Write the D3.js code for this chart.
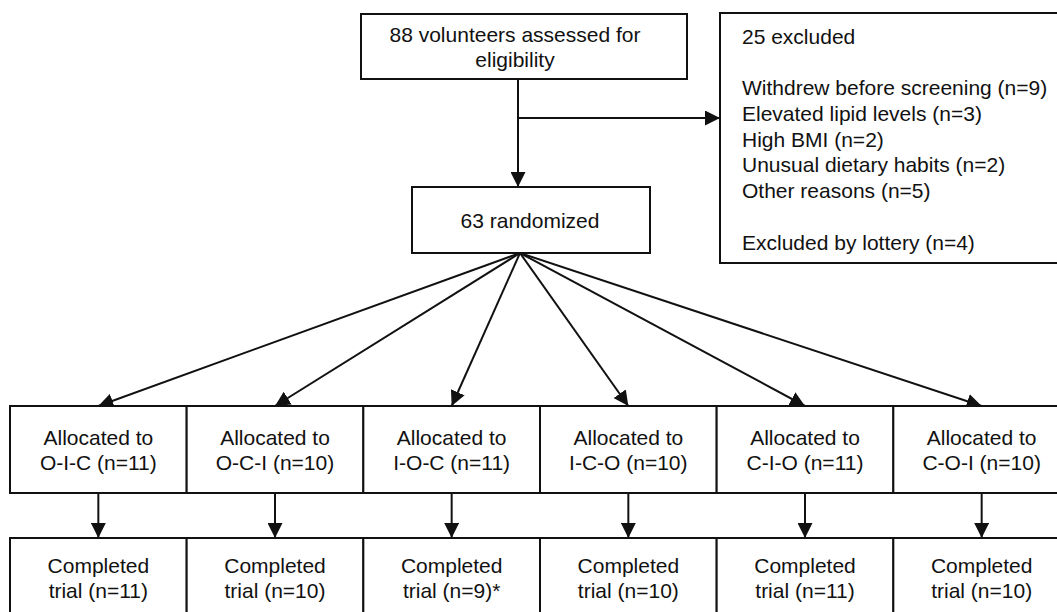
<!DOCTYPE html>
<html>
<head>
<meta charset="utf-8">
<script src="https://cdn.jsdelivr.net/npm/d3@7"></script>
<style>
  body { margin: 0; background: #fff; }
  svg text { font-family: "Liberation Sans", Arial, sans-serif; fill: #111; }
</style>
</head>
<body>
<div id="flow"></div>
<script>
// Flow data
const assessedN = 88;
const randomizedN = 63;
const excludedN = 25;
const exclusionReasons = ["Withdrew before screening", "Elevated lipid levels", "High BMI", "Unusual dietary habits", "Other reasons"];
const exclusionCounts = [9, 3, 2, 2, 5];
const lotteryExcluded = 4;
const groups = ["O-I-C", "O-C-I", "I-O-C", "I-C-O", "C-I-O", "C-O-I"];
const allocatedN = [11, 10, 11, 10, 11, 10];
const completedN = [11, 10, 9, 10, 11, 10];
const completedNote = ["", "", "*", "", "", ""];

drawFlow();

function drawFlow() {
    const W = 1057, H = 612;
    const svg = d3.select("#flow").append("svg")
        .attr("width", W).attr("height", H);

    // filled arrow head
    svg.append("defs").append("marker")
        .attr("id", "arr")
        .attr("viewBox", "0 0 10 10")
        .attr("refX", 10).attr("refY", 5)
        .attr("markerWidth", 15).attr("markerHeight", 15)
        .attr("markerUnits", "userSpaceOnUse")
        .attr("orient", "auto")
        .append("path")
        .attr("d", "M0,0 L10,5 L0,10 z")
        .attr("fill", "#111");

    const stroke = "#111";
    const sw = 2;
    const fs = 21;

    function box(x, y, w, h) {
        svg.append("rect")
            .attr("x", x).attr("y", y).attr("width", w).attr("height", h)
            .attr("fill", "#fff").attr("stroke", stroke).attr("stroke-width", sw);
    }
    function label(x, y, lines, gap) {
        const t = svg.append("text")
            .attr("x", x).attr("y", y)
            .attr("text-anchor", "middle")
            .style("font-size", fs + "px");
        lines.forEach((l, i) => {
            t.append("tspan").attr("x", x).attr("dy", i === 0 ? 0 : gap).text(l);
        });
    }
    function arrow(x1, y1, x2, y2) {
        svg.append("line")
            .attr("x1", x1).attr("y1", y1).attr("x2", x2).attr("y2", y2)
            .attr("stroke", stroke).attr("stroke-width", sw)
            .attr("marker-end", "url(#arr)");
    }

    // box geometry
    const top = { x: 361, y: 14, w: 326, h: 65 };
    const excl = { x: 720, y: 13, w: 360, h: 250 };
    const rand = { x: 412, y: 187, w: 238, h: 66 };
    const mainX = 518, branchY = 118;

    // connectors first so boxes sit on top
    svg.append("line")
        .attr("x1", mainX).attr("y1", top.y + top.h)
        .attr("x2", mainX).attr("y2", branchY)
        .attr("stroke", stroke).attr("stroke-width", sw);
    arrow(mainX, branchY, mainX, rand.y);
    arrow(mainX - 1, branchY, excl.x, branchY);

    box(top.x, top.y, top.w, top.h);
    label(515, 42, [assessedN + " volunteers assessed for", "eligibility"], 25);

    // Excluded box
    box(excl.x, excl.y, excl.w, excl.h);
    const ex = svg.append("text").attr("x", 742).attr("y", 44).style("font-size", fs + "px");
    ex.append("tspan").attr("x", 742).text(excludedN + " excluded");
    exclusionReasons.forEach((r, i) => {
        ex.append("tspan").attr("x", 742).attr("dy", i === 0 ? 51 : 25.8)
            .text(r + " (n=" + exclusionCounts[i] + ")");
    });
    ex.append("tspan").attr("x", 742).attr("dy", 52).text("Excluded by lottery (n=" + lotteryExcluded + ")");

    // Randomized box
    box(rand.x, rand.y, rand.w, rand.h);
    label(530, 228, [randomizedN + " randomized"], 25);

    // Group columns
    const xBand = d3.scaleBand().domain(groups).range([10, 1070]).paddingInner(0).paddingOuter(0);
    const rowAllocY = 406, rowAllocH = 87;
    const rowCompY = 538, rowCompH = 100;
    const fanX = 520, fanY = rand.y + rand.h;

    groups.forEach((g) => {
        const cx = xBand(g) + xBand.bandwidth() / 2;
        arrow(fanX, fanY, cx, rowAllocY);
        arrow(cx, rowAllocY + rowAllocH, cx, rowCompY);
    });

    groups.forEach((g, i) => {
        const x0 = xBand(g), bw = xBand.bandwidth();
        const cx = x0 + bw / 2;
        box(x0, rowAllocY, bw, rowAllocH);
        box(x0, rowCompY, bw, rowCompH);
        label(cx, 445, ["Allocated to", g + " (n=" + allocatedN[i] + ")"], 25);
        label(cx, 573, ["Completed", "trial (n=" + completedN[i] + ")" + completedNote[i]], 25);
    });
}
</script>
</body>
</html>
